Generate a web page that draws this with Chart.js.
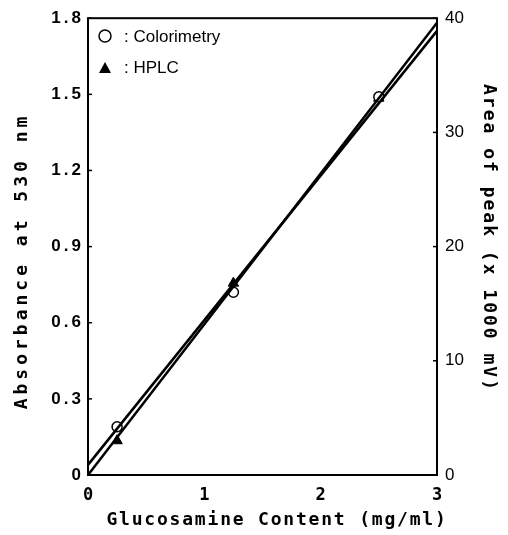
<!DOCTYPE html>
<html>
<head>
<meta charset="utf-8">
<script src="https://cdn.jsdelivr.net/npm/chart.js@4/dist/chart.umd.min.js"></script>
<style>
  html, body { margin: 0; padding: 0; background: #fff; }
  #wrap { width: 508px; height: 535px; }
</style>
</head>
<body>
<div id="wrap"><canvas id="chart" width="508" height="535"></canvas></div>
<script>
// glucosamine standard curve, two methods
const concentration = [0.25, 1.25, 2.5];
const colorimetry = [0.19, 0.72, 1.49];     // absorbance at 530 nm (left axis)
const hplc = [3.0, 16.8, 33.0];             // peak area x1000 mV (right axis)

const fitX = [0, 3];
const colorimetryFit = [0.04, 1.75];
const hplcFit = [0, 39.6];

const xTicks = [0, 1, 2, 3];
const leftTicks = [0, 0.3, 0.6, 0.9, 1.2, 1.5, 1.8];
const leftTickLabels = ["0", "0.3", "0.6", "0.9", "1.2", "1.5", "1.8"];
const rightTicks = [0, 10, 20, 30, 40];

const legendLabels = [": Colorimetry", ": HPLC"];
const xTitle = "Glucosamine Content (mg/ml)";
const leftTitle = "Absorbance at 530 nm";
const rightTitle = "Area of peak (x 1000 mV)";

const toPoints = (xs, ys) => xs.map((x, i) => ({ x: x, y: ys[i] }));

const framePlugin = {
  id: "frame",
  afterLayout(chart) {
    // left axis numbers are spaced out in the old print
    const s = chart.scales.y;
    if (!s._spaced) {
      const orig = s.drawLabels.bind(s);
      s.drawLabels = function (area) {
        const ctx = this.ctx;
        const prev = ctx.letterSpacing;
        ctx.letterSpacing = "3px";
        orig(area);
        ctx.letterSpacing = prev;
      };
      s._spaced = true;
    }
  },
  afterDraw(chart) {
    const ctx = chart.ctx;
    const a = chart.chartArea;
    ctx.save();
    ctx.letterSpacing = "0px";
    ctx.strokeStyle = "#000";
    ctx.lineWidth = 2;
    ctx.strokeRect(a.left, a.top, a.right - a.left, a.bottom - a.top);

    // small inward ticks
    ctx.lineWidth = 1.5;
    leftTicks.forEach(v => {
      const y = chart.scales.y.getPixelForValue(v);
      ctx.beginPath(); ctx.moveTo(a.left, y); ctx.lineTo(a.left + 4, y); ctx.stroke();
    });
    rightTicks.forEach(v => {
      const y = chart.scales.y2.getPixelForValue(v);
      ctx.beginPath(); ctx.moveTo(a.right, y); ctx.lineTo(a.right - 4, y); ctx.stroke();
    });

    // legend inside plot
    ctx.lineWidth = 1.5;
    ctx.beginPath(); ctx.arc(105, 36, 6, 0, Math.PI * 2);
    ctx.fillStyle = "#fff"; ctx.fill(); ctx.stroke();
    ctx.fillStyle = "#000";
    ctx.beginPath();
    ctx.moveTo(105, 62); ctx.lineTo(111, 73); ctx.lineTo(99, 73); ctx.closePath();
    ctx.fill();
    ctx.font = "17px 'Liberation Sans', Arial, sans-serif";
    ctx.textBaseline = "middle";
    ctx.textAlign = "left";
    ctx.fillText(legendLabels[0], 124, 37);
    ctx.fillText(legendLabels[1], 124, 68);

    // axis titles
    ctx.font = "bold 18px 'DejaVu Sans Mono', monospace";
    ctx.textAlign = "center";
    ctx.letterSpacing = "1.8px";
    ctx.fillText(xTitle, 277, 520);

    ctx.save();
    ctx.translate(22, 261);
    ctx.rotate(-Math.PI / 2);
    ctx.letterSpacing = "4px";
    ctx.fillText(leftTitle, 0, 0);
    ctx.restore();

    ctx.save();
    ctx.translate(489, 238);
    ctx.rotate(Math.PI / 2);
    ctx.letterSpacing = "2px";
    ctx.fillText(rightTitle, 0, 0);
    ctx.restore();

    ctx.restore();
  }
};

new Chart(document.getElementById("chart"), {
  type: "scatter",
  data: {
    datasets: [
      {
        label: "Colorimetry fit",
        data: toPoints(fitX, colorimetryFit),
        yAxisID: "y",
        showLine: true,
        borderColor: "#000",
        borderWidth: 2.5,
        pointRadius: 0
      },
      {
        label: "HPLC fit",
        data: toPoints(fitX, hplcFit),
        yAxisID: "y2",
        showLine: true,
        borderColor: "#000",
        borderWidth: 2.5,
        pointRadius: 0
      },
      {
        label: "Colorimetry",
        data: toPoints(concentration, colorimetry),
        yAxisID: "y",
        pointStyle: "circle",
        pointRadius: 5,
        pointBackgroundColor: "#fff",
        pointBorderColor: "#000",
        pointBorderWidth: 1.5
      },
      {
        label: "HPLC",
        data: toPoints(concentration, hplc),
        yAxisID: "y2",
        pointStyle: "triangle",
        pointRadius: 6,
        pointBackgroundColor: "#000",
        pointBorderColor: "#000",
        pointBorderWidth: 1
      }
    ]
  },
  options: {
    responsive: false,
    animation: false,
    layout: { padding: { top: 15, left: 0, right: 0, bottom: 0 } },
    plugins: {
      legend: { display: false },
      tooltip: { enabled: false }
    },
    scales: {
      x: {
        type: "linear",
        min: 0, max: 3,
        grid: { display: false, drawTicks: false },
        border: { display: false },
        afterBuildTicks: s => { s.ticks = xTicks.map(v => ({ value: v })); },
        afterFit: s => { s.height = 60; },
        ticks: {
          color: "#000",
          padding: 10,
          maxRotation: 0,
          font: { family: "'DejaVu Sans Mono', monospace", size: 17, weight: "bold" }
        }
      },
      y: {
        position: "left",
        min: 0, max: 1.8,
        grid: { display: false, drawTicks: false },
        border: { display: false },
        afterBuildTicks: s => { s.ticks = leftTicks.map(v => ({ value: v })); },
        afterFit: s => { s.width = 88; },
        ticks: {
          color: "#000",
          padding: 4,
          callback: (v, i) => leftTickLabels[i],
          font: { family: "'Liberation Sans', Arial, sans-serif", size: 17, weight: "bold" }
        }
      },
      y2: {
        position: "right",
        min: 0, max: 40,
        grid: { display: false, drawTicks: false },
        border: { display: false },
        afterBuildTicks: s => { s.ticks = rightTicks.map(v => ({ value: v })); },
        afterFit: s => { s.width = 71; },
        ticks: {
          color: "#000",
          padding: 8,
          font: { family: "'Liberation Sans', Arial, sans-serif", size: 17 }
        }
      }
    }
  },
  plugins: [framePlugin]
});
</script>
</body>
</html>
